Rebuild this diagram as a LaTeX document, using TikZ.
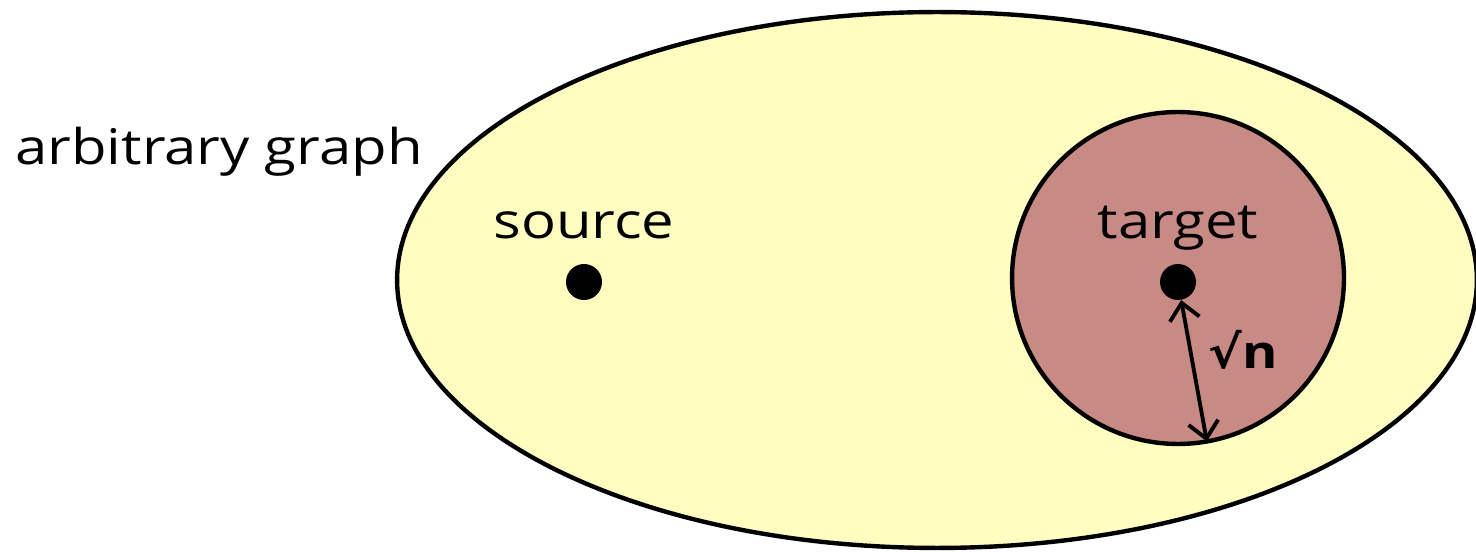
\documentclass[tikz,border=0pt]{standalone}
\usepackage{fontspec}
\setmainfont[FakeStretch=1.18]{Open Sans}
\newfontfamily\symfont[FakeStretch=1.1]{DejaVu Sans}
\usepackage{xcolor}
\usetikzlibrary{shapes.geometric}
\usetikzlibrary{arrows.meta,calc}

\definecolor{paleyellow}{HTML}{FFFDC0}
\definecolor{dustyrose}{HTML}{C88A84}

\begin{document}
\begin{tikzpicture} [
       x=0.02cm, y=0.02cm,
       region/.style={draw=black, line width=2.5pt, inner sep=0pt, outer sep=0pt},
       vertex/.style={circle, fill=black, inner sep=0pt, minimum size=0.72cm},
       texte/.style={font=\fontsize{28}{33}\selectfont, inner sep=0pt},
       line/.style     = { draw, line width=2.2pt, {Straight Barb[length=3.3mm,width=6mm]}-{Straight Barb[length=3.3mm,width=6mm]} },
       ]
       \useasboundingbox (0,0) rectangle (1476,551);
       \node (graph) [region, ellipse, fill=paleyellow, minimum width=21.6cm, minimum height=10.72cm] at (937,271) {};
       \node (ball) [region, circle, fill=dustyrose, minimum size=6.64cm] at (1178,273) {};
       \node (src) [vertex] at (584,269) {};
       \node (tgt) [vertex] at (1178,269) {};
       \node (srclabel) [texte, anchor=base] at (584,312) {source};
       \node (tgtlabel) [texte, anchor=base] at (1178,312) {target};
       \node (title) [texte, anchor=base west] at (15,386) {arbitrary graph};
       \node (radius) [texte, font=\fontsize{26}{30}\selectfont\bfseries] at (1243,201) {{\symfont\bfseries √}n};
        \begin{scope}[every path/.style=line]
        \path (tgt.-80) -- (ball.-80) ;
\end{scope}
\end{tikzpicture}
\end{document}
